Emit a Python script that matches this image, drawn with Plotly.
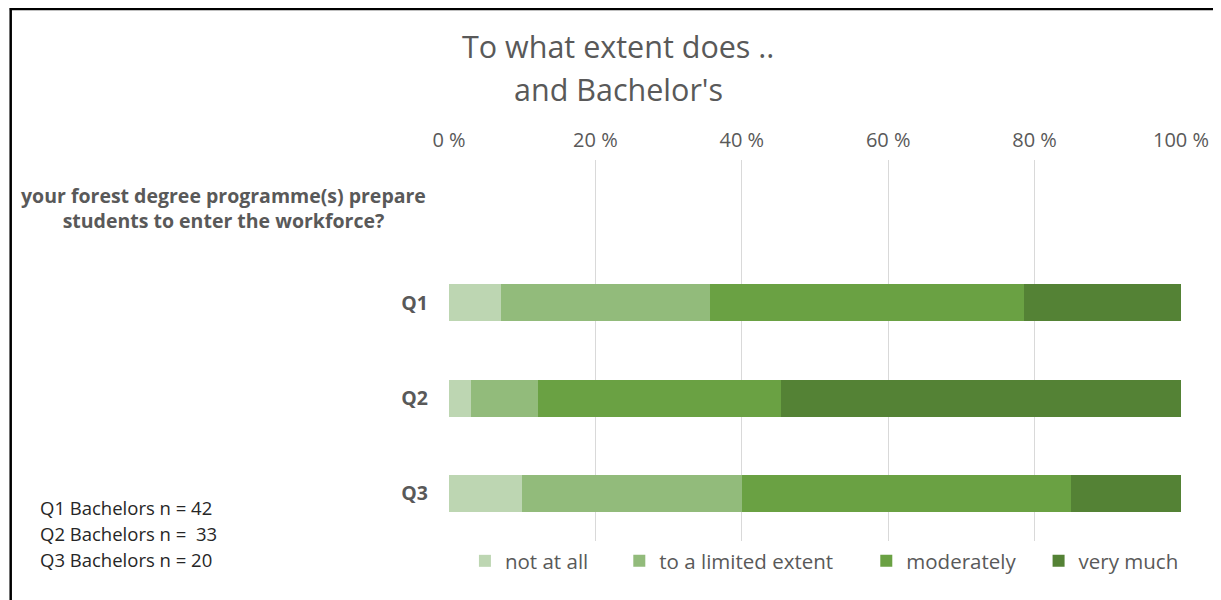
import plotly.graph_objects as go

# ---- data ----
categories = ["header", "Q1", "Q2", "Q3"]
header_label = "your forest degree programme(s) prepare<br>students to enter the workforce?"
tick_labels = ["", "Q1", "Q2", "Q3"]
series_names = ["not at all", "to a limited extent", "moderately", "very much"]
not_at_all = [None, 7.1, 3.0, 10.0]
limited = [None, 28.6, 9.1, 30.0]
moderately = [None, 42.9, 33.3, 45.0]
very_much = [None, 21.4, 54.6, 15.0]
x_ticks = [0, 20, 40, 60, 80, 100]
x_tick_labels = ["0 %", "20 %", "40 %", "60 %", "80 %", "100 %"]
n_notes = ["Q1 Bachelors n = 42", "Q2 Bachelors n =  33", "Q3 Bachelors n = 20"]
title_lines = ["To what extent does ..", "and Bachelor's"]

colors = ["#BDD6B2", "#92BB7B", "#6AA143", "#548235"]
FONT = "Open Sans"

# ---- layout geometry (screen pixels; page body adds an 8px offset) ----
OFF = 8
W, H = 1221 - OFF, 600 - OFF
L, R, T, B = 449 - OFF, 1184 - OFF, 160 - OFF, 541 - OFF


def px_x(p):
    return (p - OFF - L) / (R - L)


def px_y(p):
    return (B - (p - OFF)) / (B - T)


legend_marker_centers = [487, 642, 890, 1063]

fig = go.Figure()
for i, (name, vals, col) in enumerate(zip(series_names, [not_at_all, limited, moderately, very_much], colors)):
    fig.add_trace(go.Bar(
        y=categories, x=vals, name=name, orientation="h",
        marker=dict(color=col, line=dict(width=0)),
        legend="legend" if i == 0 else f"legend{i + 1}",
    ))

annotations = []
annotations.append(dict(
    text="<b>" + header_label + "</b>", x=px_x(428), xref="paper", xanchor="right",
    y="header", yref="y", yanchor="middle", align="center", showarrow=False,
    font=dict(family=FONT, size=19.5, color="#595959"),
))
for i, line in enumerate(title_lines):
    annotations.append(dict(
        text=line, x=px_x(619), xref="paper", xanchor="center",
        y=px_y([46, 89][i]), yref="paper", yanchor="middle", showarrow=False,
        font=dict(family=FONT, size=30.5, color="#595959"),
    ))
for i, t in enumerate(n_notes):
    annotations.append(dict(
        text=t.replace("  ", "&nbsp; "), x=px_x(36), xref="paper", xanchor="left",
        y=px_y([507, 533, 559][i]), yref="paper", yanchor="middle", showarrow=False,
        font=dict(family=FONT, size=18.5, color="#262626"),
    ))

shapes = [
    dict(type="line", xref="paper", yref="paper", x0=px_x(8), x1=px_x(1225),
         y0=px_y(9), y1=px_y(9), line=dict(color="black", width=2.5)),
    dict(type="line", xref="paper", yref="paper", x0=px_x(8.9), x1=px_x(8.9),
         y0=px_y(8), y1=px_y(605), line=dict(color="black", width=2.5)),
]

legend_common = dict(orientation="h", xanchor="left", yanchor="middle", y=px_y(561),
                     font=dict(family=FONT, size=20.5, color="#595959"),
                     itemwidth=30, bgcolor="rgba(0,0,0,0)")
legends = {}
for i, c in enumerate(legend_marker_centers):
    key = "legend" if i == 0 else f"legend{i + 1}"
    legends[key] = dict(legend_common, x=px_x(c - 22))

fig.update_layout(
    width=W, height=H,
    margin=dict(l=L, r=W - R, t=T, b=H - B, pad=0),
    barmode="stack", bargap=0.61,
    plot_bgcolor="white", paper_bgcolor="white",
    font=dict(family=FONT, color="#595959"),
    showlegend=True,
    annotations=annotations, shapes=shapes,
    xaxis=dict(side="top", range=[0, 100], tickvals=x_ticks, ticktext=x_tick_labels,
               showgrid=True, gridcolor="#D9D9D9", gridwidth=1, zeroline=False,
               showline=False, ticks="", tickfont=dict(family=FONT, size=20, color="#595959"),
               ticklabelstandoff=8, fixedrange=True),
    yaxis=dict(categoryorder="array", categoryarray=categories, autorange="reversed",
               tickvals=categories, ticktext=tick_labels, showgrid=False, zeroline=False,
               showline=False, ticks="", ticklabelstandoff=20,
               tickfont=dict(family=FONT, size=19.5, color="#595959", weight="bold")),
    **legends,
)

fig.write_html("out.html")
